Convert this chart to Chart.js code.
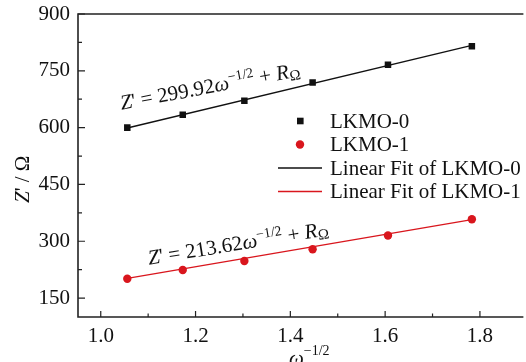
<!DOCTYPE html>
<html>
<head>
<meta charset="utf-8">
<script src="https://cdn.jsdelivr.net/npm/chart.js@4.4.0/dist/chart.umd.min.js"></script>
<style>
  html, body { margin: 0; padding: 0; background: #fff; }
</style>
</head>
<body>
<canvas id="myChart" width="526" height="362"></canvas>
<script>
// values
var omegaValues = [1.056, 1.173, 1.303, 1.447, 1.606, 1.783];
var lkmo0 = [600, 634, 671, 719, 766, 815];
var lkmo1 = [201, 224, 248, 279, 315, 358];
var fitX = [1.056, 1.783];
var fit0 = [599, 817];
var fit1 = [202, 357];
var xTicks = [1.0, 1.1, 1.2, 1.3, 1.4, 1.5, 1.6, 1.7, 1.8];
var yTicks = [150, 225, 300, 375, 450, 525, 600, 675, 750, 825, 900];

var SERIF = "'Liberation Serif', 'Times New Roman', serif";
var RED = '#d9161d';

function pts(xs, ys) {
    return xs.map(function(x, i) { return { x: x, y: ys[i] }; });
}

function isMajorX(v) { return Math.round(v * 10) % 2 === 0; }
function isMajorY(v) { return v % 150 === 0; }

// draws text made of pieces (italic, superscript, subscript)
function richText(ctx, x, y, angle, parts) {
    ctx.save();
    ctx.translate(x, y);
    ctx.rotate(angle * Math.PI / 180);
    ctx.textBaseline = 'alphabetic';
    ctx.textAlign = 'left';
    ctx.fillStyle = '#111';
    var cx = 0;
    parts.forEach(function(p) {
        ctx.font = (p.italic ? 'italic ' : '') + (p.size || 21) + 'px ' + SERIF;
        ctx.fillText(p.t, cx, p.dy || 0);
        cx += ctx.measureText(p.t).width;
    });
    ctx.restore();
}

var decorations = {
    id: 'decorations',
    beforeDatasetsDraw: function(chart) {
        var ctx = chart.ctx, a = chart.chartArea;
        var xs = chart.scales.x, ys = chart.scales.y;
        ctx.save();
        ctx.strokeStyle = '#222';
        ctx.lineWidth = 1.6;
        ctx.beginPath();
        ctx.moveTo(a.right + 2, a.top);
        ctx.lineTo(a.left, a.top);
        ctx.lineTo(a.left, a.bottom);
        ctx.lineTo(a.right + 2, a.bottom);
        ctx.stroke();
        ctx.lineWidth = 1.2;
        ctx.beginPath();
        xTicks.forEach(function(v) {
            var px = xs.getPixelForValue(v);
            ctx.moveTo(px, a.bottom);
            ctx.lineTo(px, a.bottom - (isMajorX(v) ? 6 : 3.5));
        });
        yTicks.forEach(function(v) {
            var py = ys.getPixelForValue(v);
            ctx.moveTo(a.left, py);
            ctx.lineTo(a.left + (isMajorY(v) ? 7 : 4), py);
        });
        ctx.stroke();
        ctx.restore();
    },
    afterDraw: function(chart) {
        var ctx = chart.ctx;
        var xs = chart.scales.x, ys = chart.scales.y;

        // fit equations
        richText(ctx, xs.getPixelForValue(1.044), ys.getPixelForValue(647), -10.7, [
            { t: 'Z', italic: true }, { t: "' = 299.92" }, { t: '\u03c9', italic: true },
            { t: '\u22121/2', size: 14, dy: -8 }, { t: ' + ' }, { t: 'R', italic: true },
            { t: '\u03a9', size: 15, dy: 3 }
        ]);
        richText(ctx, xs.getPixelForValue(1.102), ys.getPixelForValue(238), -9.3, [
            { t: 'Z', italic: true }, { t: "' = 213.62" }, { t: '\u03c9', italic: true },
            { t: '\u22121/2', size: 14, dy: -8 }, { t: ' + ' }, { t: 'R', italic: true },
            { t: '\u03a9', size: 15, dy: 3 }
        ]);

        // legend
        ctx.save();
        ctx.font = '21px ' + SERIF;
        ctx.textBaseline = 'middle';
        ctx.textAlign = 'left';
        chart.data.datasets.forEach(function(ds, i) {
            var y = 121 + i * 23.5;
            ctx.fillStyle = ds.borderColor;
            ctx.strokeStyle = ds.borderColor;
            if (ds.showLine) {
                ctx.lineWidth = 1.3;
                ctx.beginPath();
                ctx.moveTo(278, y);
                ctx.lineTo(322, y);
                ctx.stroke();
            } else if (ds.pointStyle === 'rect') {
                ctx.fillRect(297, y - 3.3, 6.6, 6.6);
            } else {
                ctx.beginPath();
                ctx.arc(300, y, 4.2, 0, Math.PI * 2);
                ctx.fill();
            }
            ctx.fillStyle = '#111';
            ctx.fillText(ds.label, 330, y + 1);
        });
        ctx.restore();

        // axis titles
        richText(ctx, 289, 365, 0, [
            { t: '\u03c9', italic: true }, { t: '\u22121/2', size: 14, dy: -10 }
        ]);
        richText(ctx, 29, 203, -90, [
            { t: 'Z', italic: true }, { t: "' / \u03a9" }
        ]);
    }
};

var ctx = document.getElementById('myChart').getContext('2d');
var myChart = new Chart(ctx, {
    type: 'scatter',
    data: {
        datasets: [{
            label: 'LKMO-0',
            data: pts(omegaValues, lkmo0),
            pointStyle: 'rect',
            pointRadius: 4.6,
            backgroundColor: '#111',
            borderColor: '#111',
            borderWidth: 0,
            showLine: false
        }, {
            label: 'LKMO-1',
            data: pts(omegaValues, lkmo1),
            pointStyle: 'circle',
            pointRadius: 4.2,
            backgroundColor: RED,
            borderColor: RED,
            borderWidth: 0,
            showLine: false
        }, {
            label: 'Linear Fit of LKMO-0',
            data: pts(fitX, fit0),
            showLine: true,
            pointRadius: 0,
            borderColor: '#111',
            borderWidth: 1.3
        }, {
            label: 'Linear Fit of LKMO-1',
            data: pts(fitX, fit1),
            showLine: true,
            pointRadius: 0,
            borderColor: RED,
            borderWidth: 1.3
        }]
    },
    options: {
        responsive: false,
        animation: false,
        layout: { padding: { top: 14, right: 0, left: 0, bottom: 0 } },
        plugins: {
            legend: { display: false },
            tooltip: { enabled: false }
        },
        scales: {
            x: {
                type: 'linear',
                min: 0.952,
                max: 1.8875,
                grid: { display: false, drawTicks: false },
                border: { display: false },
                afterBuildTicks: function(scale) {
                    scale.ticks = xTicks.map(function(v) { return { value: v }; });
                },
                afterFit: function(scale) {
                    scale.height = 45;
                    scale.paddingLeft = 0;
                    scale.paddingRight = 0;
                },
                ticks: {
                    padding: 7,
                    color: '#111',
                    maxRotation: 0,
                    autoSkip: false,
                    font: { family: SERIF, size: 21 },
                    callback: function(v) { return isMajorX(v) ? v.toFixed(1) : ''; }
                }
            },
            y: {
                type: 'linear',
                min: 100,
                max: 900,
                grid: { display: false, drawTicks: false },
                border: { display: false },
                afterBuildTicks: function(scale) {
                    scale.ticks = yTicks.map(function(v) { return { value: v }; });
                },
                afterFit: function(scale) {
                    scale.width = 78;
                    scale.paddingTop = 0;
                    scale.paddingBottom = 0;
                },
                ticks: {
                    padding: 8,
                    color: '#111',
                    autoSkip: false,
                    font: { family: SERIF, size: 21 },
                    callback: function(v) { return isMajorY(v) ? String(v) : ''; }
                }
            }
        }
    },
    plugins: [decorations]
});
</script>
</body>
</html>
